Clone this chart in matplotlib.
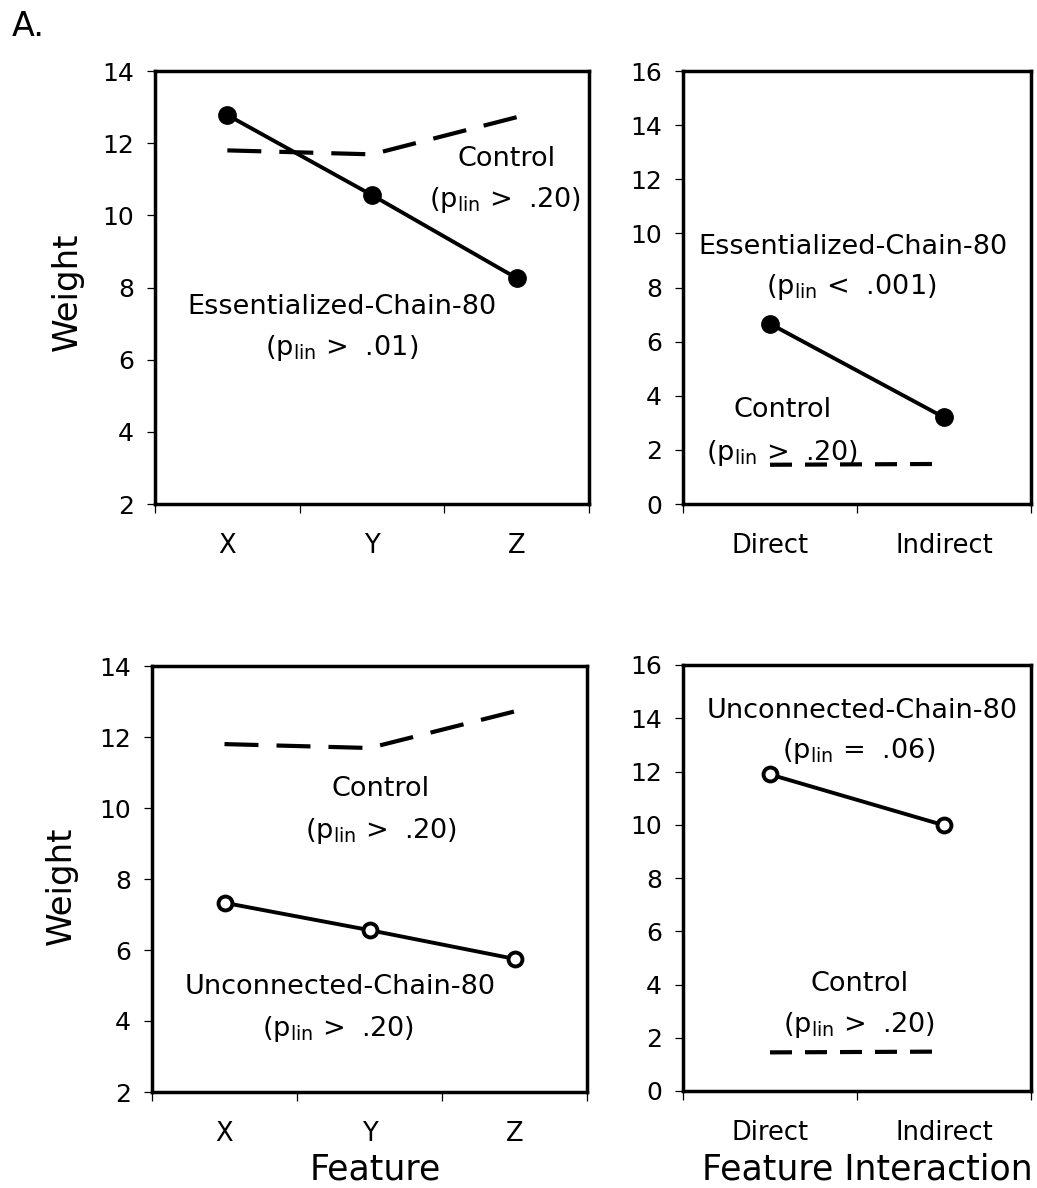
import matplotlib
matplotlib.use("Agg")
import matplotlib.pyplot as plt
import numpy as np

plt.rcParams["font.family"] = ["DejaVu Sans"]

# ---- data ----
features = ["X", "Y", "Z"]
interactions = ["Direct", "Indirect"]

control_feature = [11.80, 11.69, 12.72]
essentialized_feature = [12.78, 10.56, 8.26]
unconnected_feature = [7.33, 6.56, 5.75]

control_interaction = [1.45, 1.48]
essentialized_interaction = [6.66, 3.20]
unconnected_interaction = [11.89, 9.98]

feature_yticks = [2, 4, 6, 8, 10, 12, 14]
interaction_yticks = [0, 2, 4, 6, 8, 10, 12, 14, 16]

PLIN = r"p$\mathregular{_{lin}}$"

W, H = 1037, 1188
fig = plt.figure(figsize=(W / 100, H / 100), dpi=100)


def px_axes(left, top, right, bottom):
    return fig.add_axes([left / W, 1 - bottom / H, (right - left) / W, (bottom - top) / H])


def style_axes(ax, cats, yticks):
    n = len(cats)
    ax.set_xlim(0, n)
    ax.set_ylim(yticks[0], yticks[-1])
    ax.set_yticks(yticks)
    ax.set_xticks(np.arange(n + 1))
    ax.set_xticklabels([])
    ax.set_xticks(np.arange(n) + 0.5, minor=True)
    ax.set_xticklabels(cats, minor=True, fontsize=18.5)
    ax.tick_params(axis="x", which="major", direction="out", length=6.5, width=0.9,
                   bottom=True, top=False)
    ax.tick_params(axis="x", which="minor", length=0, pad=21)
    ax.tick_params(axis="y", direction="out", length=6, width=0.9, pad=9,
                   labelsize=18, left=True, right=False)
    for s in ax.spines.values():
        s.set_linewidth(2.5)
        s.set_color("black")


def dashed(ax, x, y, on_px, off_px, lw=3.0):
    on, off = on_px * 0.72 / lw, off_px * 0.72 / lw
    ax.plot(x, y, color="black", lw=lw, dashes=(on, off), solid_capstyle="butt")


def solid(ax, x, y, filled):
    if filled:
        ax.plot(x, y, color="black", lw=2.8, marker="o", ms=12.5,
                mfc="black", mec="black", zorder=3)
    else:
        ax.plot(x, y, color="black", lw=2.8, marker="o", ms=10, mew=2.8,
                mfc="white", mec="black", zorder=3)


def note(ax, x, y, s, size=19.5):
    ax.text(x, y, s, transform=ax.transAxes, ha="center", va="center", fontsize=size)


xf = np.arange(len(features)) + 0.5
xi = np.arange(len(interactions)) + 0.5

# top-left: features, essentialized
ax1 = px_axes(155, 71, 589, 504)
style_axes(ax1, features, feature_yticks)
dashed(ax1, xf, control_feature, 34, 18)
solid(ax1, xf, essentialized_feature, True)
note(ax1, 0.809, 0.797, "Control")
note(ax1, 0.806, 0.702, f"({PLIN} >  .20)")
note(ax1, 0.431, 0.455, "Essentialized-Chain-80")
note(ax1, 0.429, 0.360, f"({PLIN} >  .01)")

# top-right: interactions, essentialized
ax2 = px_axes(683, 71, 1031, 504)
style_axes(ax2, interactions, interaction_yticks)
dashed(ax2, xi, control_interaction, 22, 13)
solid(ax2, xi, essentialized_interaction, True)
note(ax2, 0.489, 0.594, "Essentialized-Chain-80")
note(ax2, 0.484, 0.501, f"({PLIN} <  .001)")
note(ax2, 0.287, 0.217, "Control")
note(ax2, 0.284, 0.118, f"({PLIN} >  .20)")

# bottom-left: features, unconnected
ax3 = px_axes(152, 666, 587, 1092)
style_axes(ax3, features, feature_yticks)
dashed(ax3, xf, control_feature, 34, 18)
solid(ax3, xf, unconnected_feature, False)
note(ax3, 0.526, 0.711, "Control")
note(ax3, 0.526, 0.613, f"({PLIN} >  .20)")
note(ax3, 0.432, 0.246, "Unconnected-Chain-80")
note(ax3, 0.428, 0.148, f"({PLIN} >  .20)")

# bottom-right: interactions, unconnected
ax4 = px_axes(683, 665, 1031, 1091)
style_axes(ax4, interactions, interaction_yticks)
dashed(ax4, xi, control_interaction, 22, 13)
solid(ax4, xi, unconnected_interaction, False)
note(ax4, 0.514, 0.892, "Unconnected-Chain-80")
note(ax4, 0.506, 0.798, f"({PLIN} =  .06)")
note(ax4, 0.506, 0.251, "Control")
note(ax4, 0.506, 0.155, f"({PLIN} >  .20)")

# figure-level labels
fig.text(28 / W, 1 - 27 / H, "A.", fontsize=24, ha="center", va="center")
fig.text(67 / W, 1 - 292 / H, "Weight", fontsize=24.5, rotation=90, ha="center", va="center")
fig.text(61 / W, 1 - 886 / H, "Weight", fontsize=24.5, rotation=90, ha="center", va="center")
fig.text(375 / W, 1 - 1170 / H, "Feature", fontsize=25, ha="center", va="center")
fig.text(867 / W, 1 - 1170 / H, "Feature Interaction", fontsize=25, ha="center", va="center")

fig.savefig("out.png", dpi=100, facecolor="white")
